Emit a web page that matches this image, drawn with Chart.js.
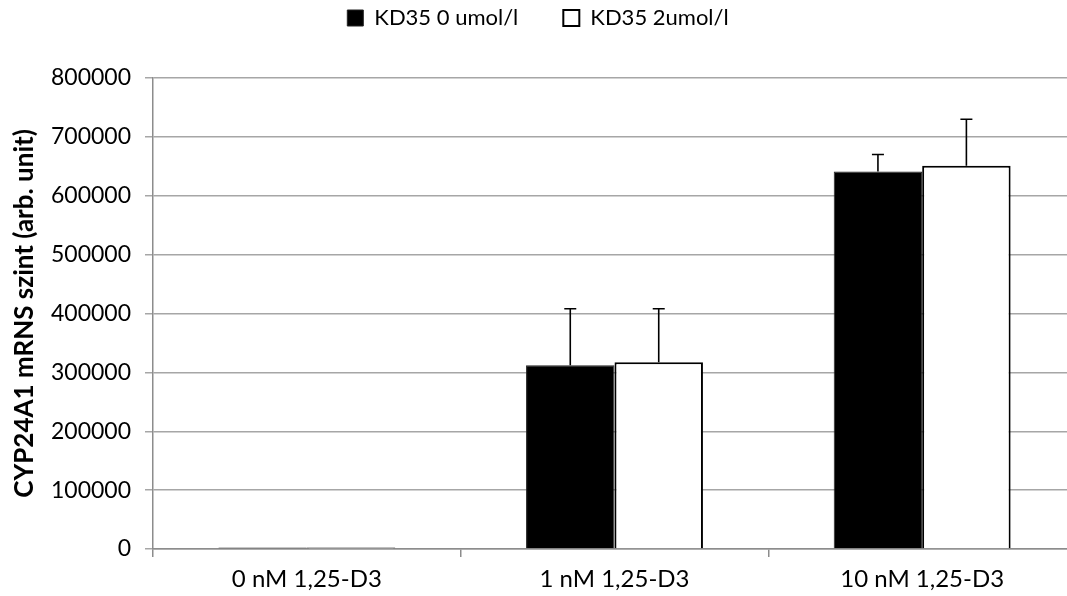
<!DOCTYPE html>
<html>
<head>
<meta charset="utf-8">
<script src="https://cdn.jsdelivr.net/npm/chart.js@4"></script>
<style>
  html, body { margin: 0; padding: 0; background: #fff; overflow: hidden; }
  #wrap { width: 1080px; height: 596px; }
</style>
</head>
<body>
<div id="wrap"><canvas id="chart"></canvas></div>
<script>
const categories = ["0 nM 1,25-D3", "1 nM 1,25-D3", "10 nM 1,25-D3"];
const kd0 = [2500, 312000, 641000];
const kd2 = [2500, 317000, 651000];
const kd0Err = [0, 96000, 29000];
const kd2Err = [0, 91000, 79000];
const yTicks = [0, 100000, 200000, 300000, 400000, 500000, 600000, 700000, 800000];

// draws the upward error whiskers
const errorBars = {
    id: "errorBars",
    afterDatasetsDraw(chart) {
        const ctx = chart.ctx;
        const y = chart.scales.y;
        const errs = [kd0Err, kd2Err];
        ctx.save();
        ctx.strokeStyle = "#000";
        ctx.lineWidth = 1.6;
        chart.data.datasets.forEach((ds, i) => {
            const meta = chart.getDatasetMeta(i);
            meta.data.forEach((bar, j) => {
                const e = errs[i][j];
                if (!e) return;
                const top = y.getPixelForValue(ds.data[j] + e);
                ctx.beginPath();
                ctx.moveTo(bar.x, bar.y);
                ctx.lineTo(bar.x, top);
                ctx.moveTo(bar.x - 6, top);
                ctx.lineTo(bar.x + 6, top);
                ctx.stroke();
            });
        });
        ctx.restore();
    }
};

// extra room under the legend, so the plot starts lower
const legendGap = {
    id: "legendGap",
    beforeInit(chart) {
        const legend = chart.legend;
        if (!legend || legend._gapWrapped) return;
        const fit = legend.fit;
        legend.fit = function () {
            fit.call(this);
            this.height += 39;
        };
        legend._gapWrapped = true;
    }
};

const ctx = document.getElementById("chart").getContext("2d");
new Chart(ctx, {
    type: "bar",
    data: {
        labels: categories,
        datasets: [
            {
                label: "KD35 0 umol/l",
                data: kd0,
                backgroundColor: "#000",
                borderColor: "#222",
                borderWidth: 1
            },
            {
                label: "KD35 2umol/l",
                data: kd2,
                backgroundColor: "#fff",
                borderColor: "#000",
                borderWidth: 2
            }
        ]
    },
    options: {
        responsive: true,
        maintainAspectRatio: false,
        animation: false,
        layout: { padding: { left: 0, right: 4, top: -38, bottom: 0 } },
        datasets: {
            bar: { categoryPercentage: 0.575, barPercentage: 1.0 }
        },
        plugins: {
            legend: {
                position: "top",
                labels: {
                    font: { family: "Lato", size: 22 },
                    color: "#000",
                    boxWidth: 16,
                    boxHeight: 16,
                    padding: 45
                }
            },
            tooltip: { enabled: false }
        },
        scales: {
            x: {
                afterFit: axis => { axis.height = 47; },
                grid: {
                    drawOnChartArea: false,
                    drawTicks: true,
                    tickLength: 8,
                    color: "#8c8c8c",
                    lineWidth: 1.5
                },
                border: { color: "#8c8c8c", width: 1.5 },
                ticks: {
                    font: { family: "Lato", size: 24 },
                    color: "#000",
                    padding: 8
                }
            },
            y: {
                min: 0,
                max: 800000,
                afterFit: axis => { axis.width = 153; },
                afterBuildTicks: axis => {
                    axis.ticks = yTicks.map(v => ({ value: v }));
                },
                grid: {
                    color: "#a6a6a6",
                    lineWidth: 1.5,
                    tickLength: 8
                },
                border: { color: "#8c8c8c", width: 1.5 },
                ticks: {
                    font: { family: "Lato", size: 23 },
                    color: "#000",
                    padding: 14,
                    callback: v => String(v)
                },
                title: {
                    display: true,
                    text: "CYP24A1 mRNS szint (arb. unit)",
                    font: { family: "Lato", size: 26, weight: "bold" },
                    color: "#000",
                    padding: { top: 9, bottom: 0 }
                }
            }
        }
    },
    plugins: [errorBars, legendGap]
});
</script>
</body>
</html>
